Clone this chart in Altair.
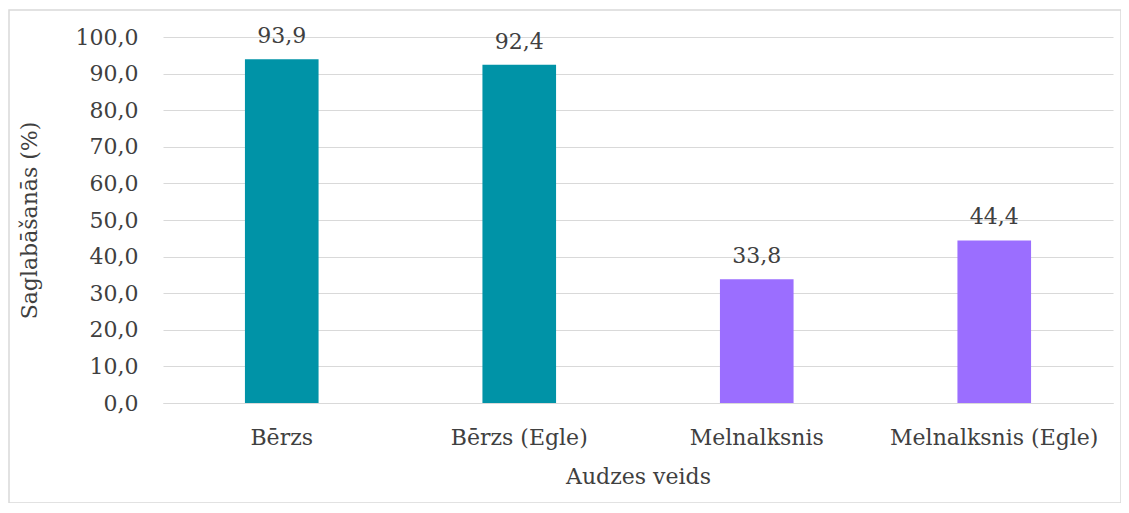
import altair as alt
import pandas as pd

categories = ["Bērzs", "Bērzs (Egle)", "Melnalksnis", "Melnalksnis (Egle)"]
values = [93.9, 92.4, 33.8, 44.4]
colors = ["#0093A7", "#0093A7", "#9B6EFF", "#9B6EFF"]
y_ticks = [0, 10, 20, 30, 40, 50, 60, 70, 80, 90, 100]

df = pd.DataFrame({"cat": categories, "val": values, "col": colors})

FONT = "DejaVu Serif"
TXT = "#404040"
FS = 22

base = alt.Chart(df)

x = alt.X("cat:N", sort=categories, title="Audzes veids",
          scale=alt.Scale(paddingInner=0.69, paddingOuter=0.345),
          axis=alt.Axis(labelAngle=0, ticks=False, domain=True, domainColor="#d9d9d9",
                        labelLimit=400,
                        labelPadding=24, titlePadding=18, labelFontSize=FS, titleFontSize=FS,
                        labelFont=FONT, titleFont=FONT, labelColor=TXT, titleColor=TXT,
                        titleFontWeight="normal", grid=False))
y = alt.Y("val:Q", title="Saglabāšanās (%)",
          scale=alt.Scale(domain=[0, 100], nice=False),
          axis=alt.Axis(values=y_ticks, ticks=False, domain=False,
                        labelOverlap=False,
                        labelExpr="replace(format(datum.value, '.1f'), '.', ',')",
                        labelPadding=25, titlePadding=34, labelFontSize=FS, titleFontSize=FS,
                        labelFont=FONT, titleFont=FONT, labelColor=TXT, titleColor=TXT,
                        titleFontWeight="normal", gridColor="#d9d9d9"))

bars = base.mark_bar().encode(x=x, y=y, color=alt.Color("col:N", scale=None))

labels = base.transform_calculate(
    lab="replace(format(datum.val, '.1f'), '.', ',')"
).mark_text(baseline="middle", dy=-23, font=FONT, fontSize=FS, color=TXT).encode(
    x=x, y=y, text="lab:N")

border = alt.Chart(pd.DataFrame({"a": [0]})).mark_rect(
    fill="transparent", stroke="#d9d9d9", strokeWidth=1.5).encode(
    x=alt.value(-154), x2=alt.value(958), y=alt.value(-27), y2=alt.value(466))

chart = alt.layer(bars, labels, border).properties(
    width=950, height=366,
    autosize=alt.AutoSizeParams(type="none"),
    padding={"left": 155, "top": 29, "right": 8, "bottom": 100},
).configure_view(stroke=None)

chart.save("out.html", embed_options={"renderer": "svg", "actions": False})
